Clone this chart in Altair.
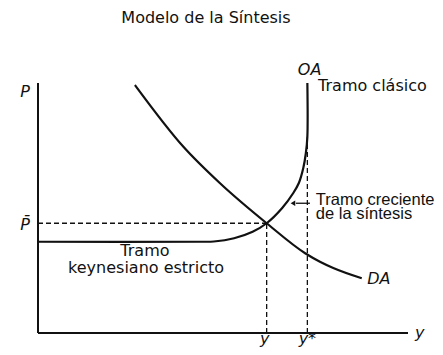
import altair as alt
import pandas as pd

# ---- data (output y on the x axis, price level P on the y axis) ----
DA_Y = [2.62, 3.93, 4.92, 6.18, 7.22, 7.62, 7.98, 8.75]
DA_P = [9.92, 7.45, 5.99, 4.39, 3.19, 2.85, 2.6, 2.19]

OA_Y = [0.0, 4.4, 4.75, 5.3, 5.8, 6.18, 6.6, 6.9, 7.05, 7.17, 7.24, 7.28, 7.28]
OA_P = [3.65, 3.65, 3.66, 3.79, 4.05, 4.39, 5.0, 5.6, 6.0, 6.6, 7.2, 7.85, 10.0]

Y_EQ = 6.18        # equilibrium output  (y)
P_BAR = 4.39       # equilibrium price   (P bar)
Y_STAR = 7.28      # full-employment output (y*)
Y_STAR_TOP = 7.85  # where the y* guide meets OA
AXIS_MAX = 10

# arrow pointing to the rising segment
ARROW_FROM = 7.35
ARROW_TO = 6.89
ARROW_P = 5.19

# annotation texts
TITLE = "Modelo de la Síntesis"
PLAIN_LEFT_TEXT = ["Tramo clásico"]
PLAIN_LEFT_X = [7.57]
PLAIN_LEFT_Y = [9.88]

NARROW_LEFT_TEXT = ["Tramo creciente", "de la síntesis"]
NARROW_LEFT_X = [7.51, 7.51]
NARROW_LEFT_Y = [5.32, 4.78]

PLAIN_CENTER_TEXT = [TITLE, "Tramo", "keynesiano estricto"]
PLAIN_CENTER_X = [4.54, 2.89, 2.92]
PLAIN_CENTER_Y = [12.6, 3.28, 2.6]

ITALIC_CENTER_TEXT = ["P", "P\u0304", "OA", "y", "y", "y*"]
ITALIC_CENTER_X = [-0.35, -0.35, 7.34, 10.32, Y_EQ - 0.05, Y_STAR]
ITALIC_CENTER_Y = [9.65, 4.32, 10.52, 0.0, -0.22, -0.22]

ITALIC_LEFT_TEXT = ["DA"]
ITALIC_LEFT_X = [8.9]
ITALIC_LEFT_Y = [2.15]

FONT = "DejaVu Sans"
NARROW_FONT = "Liberation Sans"
INK = "#111111"

xs = alt.Scale(domain=[0, AXIS_MAX], nice=False, zero=False)
ys = alt.Scale(domain=[0, AXIS_MAX], nice=False, zero=False)


def X(field):
    return alt.X(field, type="quantitative", scale=xs, axis=None)


def Y(field):
    return alt.Y(field, type="quantitative", scale=ys, axis=None)


da = pd.DataFrame({"y": DA_Y, "p": DA_P, "i": range(len(DA_Y))})
oa = pd.DataFrame({"y": OA_Y, "p": OA_P, "i": range(len(OA_Y))})

axes = pd.DataFrame({
    "x": [0, 0], "x2": [AXIS_MAX, 0],
    "y": [0, 0], "y2": [0, AXIS_MAX],
})
guides = pd.DataFrame({
    "x": [0, Y_EQ, Y_STAR], "x2": [Y_EQ, Y_EQ, Y_STAR],
    "y": [P_BAR, 0, 0], "y2": [P_BAR, P_BAR, Y_STAR_TOP],
})
arrow_line = pd.DataFrame({"x": [ARROW_TO + 0.08], "x2": [ARROW_FROM], "y": [ARROW_P], "y2": [ARROW_P]})
arrow_head = pd.DataFrame({"x": [ARROW_TO], "y": [ARROW_P]})

axis_layer = alt.Chart(axes).mark_rule(color=INK, strokeWidth=2).encode(
    x=X("x"), x2="x2", y=Y("y"), y2="y2")
guide_layer = alt.Chart(guides).mark_rule(color=INK, strokeWidth=1.3, strokeDash=[5, 3]).encode(
    x=X("x"), x2="x2", y=Y("y"), y2="y2")

da_layer = alt.Chart(da).mark_line(color=INK, strokeWidth=2.2, interpolate="monotone").encode(
    x=X("y"), y=Y("p"), order="i:Q")
oa_layer = alt.Chart(oa).mark_line(color=INK, strokeWidth=2.2, interpolate="catmull-rom").encode(
    x=X("y"), y=Y("p"), order="i:Q")

arrow_l = alt.Chart(arrow_line).mark_rule(color=INK, strokeWidth=1.3).encode(
    x=X("x"), x2="x2", y=Y("y"), y2="y2")
arrow_h = alt.Chart(arrow_head).mark_point(shape="triangle-left", filled=True, color=INK, size=28, opacity=1).encode(
    x=X("x"), y=Y("y"))


def text_layer(texts, xv, yv, align, style, font=FONT, size=16):
    df = pd.DataFrame({"t": texts, "x": xv, "y": yv})
    return alt.Chart(df).mark_text(
        font=font, fontSize=size, fontStyle=style, align=align, baseline="middle", color=INK
    ).encode(x=X("x"), y=Y("y"), text="t:N")


labels = [
    text_layer(PLAIN_LEFT_TEXT, PLAIN_LEFT_X, PLAIN_LEFT_Y, "left", "normal"),
    text_layer(NARROW_LEFT_TEXT, NARROW_LEFT_X, NARROW_LEFT_Y, "left", "normal", NARROW_FONT, 16.5),
    text_layer(PLAIN_CENTER_TEXT, PLAIN_CENTER_X, PLAIN_CENTER_Y, "center", "normal"),
    text_layer(ITALIC_CENTER_TEXT, ITALIC_CENTER_X, ITALIC_CENTER_Y, "center", "italic"),
    text_layer(ITALIC_LEFT_TEXT, ITALIC_LEFT_X, ITALIC_LEFT_Y, "left", "italic"),
]

chart = alt.layer(
    guide_layer, axis_layer, da_layer, oa_layer, arrow_l, arrow_h, *labels
).properties(
    width=370, height=250,
    autosize=alt.AutoSizeParams(type="none"),
    padding={"left": 30, "top": 75, "right": 27, "bottom": 14},
    background="white",
).configure_view(stroke=None)

chart.save("out.html", embed_options={"renderer": "svg", "actions": False})
